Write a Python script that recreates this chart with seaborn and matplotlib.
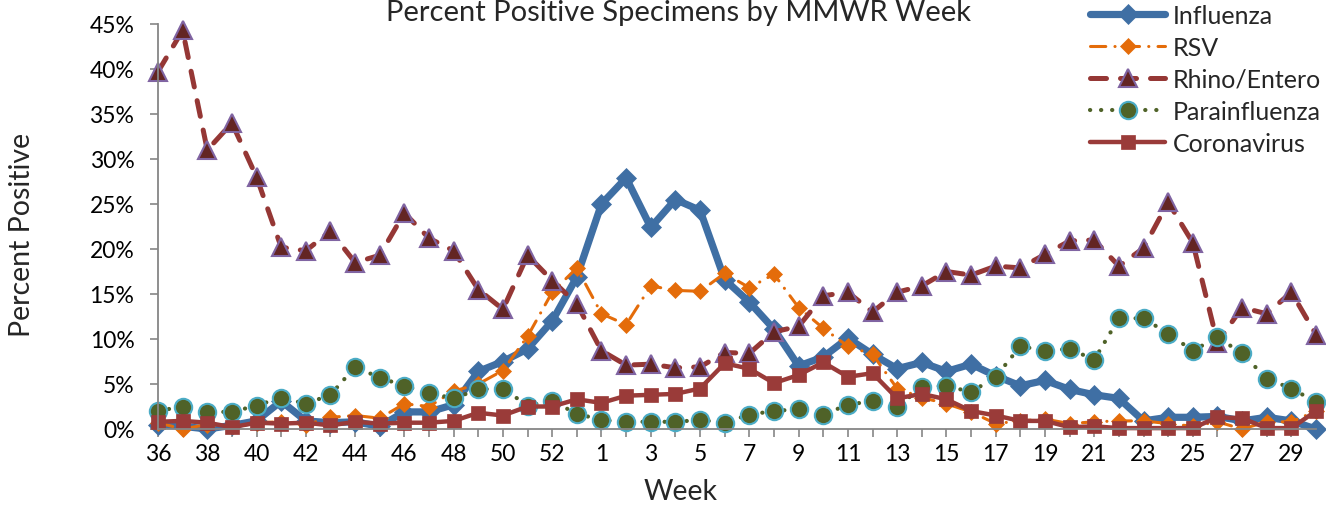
import matplotlib
matplotlib.use("Agg")
import matplotlib.pyplot as plt
import seaborn as sns
import numpy as np

# ---- data ----
weeks = list(range(36, 54)) + list(range(1, 31))
influenza = [0.5, 0.3, 0.0, 0.4, 0.9, 3.1, 0.9, 0.7, 0.8, 0.3, 1.9, 1.9, 2.7, 6.4, 7.5, 8.9, 12.0, 16.9,
             25.0, 27.9, 22.4, 25.5, 24.3, 16.6, 14.1, 11.1, 7.0, 8.0, 10.1, 8.3, 6.7, 7.4, 6.4, 7.2, 5.9,
             4.8, 5.4, 4.4, 3.8, 3.4, 0.9, 1.3, 1.3, 1.4, 0.9, 1.3, 0.9, 0.0]
rsv = [0.7, 0.0, 0.5, 0.3, 0.7, 0.8, 0.5, 1.3, 1.5, 1.2, 2.8, 2.5, 4.2, 5.0, 6.5, 10.3, 15.2, 17.9,
       12.8, 11.6, 15.9, 15.4, 15.3, 17.3, 15.7, 17.2, 13.5, 11.2, 9.2, 8.3, 4.5, 3.5, 2.8, 1.9, 0.6,
       0.9, 1.1, 0.6, 0.8, 0.9, 0.9, 0.6, 0.3, 0.8, 0.0, 0.8, 0.8, 2.0]
rhino = [39.7, 44.3, 31.0, 34.0, 28.0, 20.2, 19.8, 22.0, 18.5, 19.3, 24.0, 21.2, 19.8, 15.5, 13.3, 19.3,
         16.5, 13.9, 8.7, 7.1, 7.2, 6.8, 6.9, 8.5, 8.4, 10.8, 11.4, 14.8, 15.2, 13.0, 15.2, 15.9, 17.5,
         17.1, 18.1, 17.9, 19.4, 20.9, 21.0, 18.1, 20.1, 25.2, 20.7, 9.6, 13.5, 12.8, 15.2, 10.5]
para = [2.0, 2.5, 1.9, 1.9, 2.6, 3.5, 2.8, 3.8, 6.9, 5.7, 4.8, 4.0, 3.4, 4.4, 4.5, 2.6, 3.1, 1.7,
        1.0, 0.8, 0.8, 0.8, 1.0, 0.7, 1.6, 2.0, 2.2, 1.6, 2.7, 3.1, 2.4, 4.7, 4.8, 4.1, 5.8, 9.2,
        8.7, 8.9, 7.7, 12.3, 12.3, 10.6, 8.7, 10.2, 8.4, 5.6, 4.5, 3.0]
corona = [0.8, 0.9, 0.7, 0.2, 0.7, 0.6, 0.7, 0.4, 0.8, 0.6, 0.7, 0.7, 0.9, 1.8, 1.5, 2.5, 2.5, 3.3,
          2.9, 3.7, 3.8, 3.9, 4.5, 7.3, 6.7, 5.1, 6.0, 7.4, 5.8, 6.2, 3.4, 3.9, 3.3, 2.0, 1.5, 0.9,
          0.9, 0.2, 0.3, 0.1, 0.1, 0.1, 0.1, 1.3, 1.2, 0.1, 0.1, 2.0]
series_names = ["Influenza", "RSV", "Rhino/Entero", "Parainfluenza", "Coronavirus"]
y_ticks = [0, 5, 10, 15, 20, 25, 30, 35, 40, 45]

# ---- style ----
sns.set_theme(style="white")
plt.rcParams['font.family'] = ['Lato', 'DejaVu Sans']

W, H = 1326, 506
fig = plt.figure(figsize=(W / 100, H / 100), dpi=100)
ax = fig.add_axes([158 / W, 76 / H, (1316 - 158) / W, 405 / H])

pos = np.arange(len(weeks))
styles = [
    dict(color="#3F6FA4", linewidth=5.2, marker="D", markersize=10.5, markerfacecolor="#3F6FA4",
         markeredgecolor="#3F6FA4", markeredgewidth=0.5, dashes=None),
    dict(color="#E46C0A", linewidth=2.2, marker="D", markersize=8.5, markerfacecolor="#E46C0A",
         markeredgecolor="#E46C0A", markeredgewidth=0.5, dashes=(5, 3, 0.05, 3)),
    dict(color="#953735", linewidth=3.6, marker="^", markersize=13, markerfacecolor="#632523",
         markeredgecolor="#8064A2", markeredgewidth=1.5, dashes=(3.2, 2.8)),
    dict(color="#4F6228", linewidth=3.0, marker="o", markersize=12.5, markerfacecolor="#4F6228",
         markeredgecolor="#4BACC6", markeredgewidth=1.5, dashes=(0.05, 2.6)),
    dict(color="#9A3B39", linewidth=3.2, marker="s", markersize=10.5, markerfacecolor="#9A3B39",
         markeredgecolor="#9A3B39", markeredgewidth=0.5, dashes=None),
]
data = [influenza, rsv, rhino, para, corona]

for name, vals, st in zip(series_names, data, styles):
    st = dict(st)
    dashes = st.pop("dashes")
    sns.lineplot(x=pos, y=vals, ax=ax, label=name, errorbar=None, sort=False, **st)
    line = ax.lines[-1]
    line.set_clip_on(False)
    if dashes is not None:
        line.set_dashes(dashes)
        line.set_dash_capstyle("round")
    else:
        line.set_solid_capstyle("round")
    line.set_solid_joinstyle("round")

ax.set_xlim(0, len(weeks) - 1)
ax.set_ylim(0, 45)
ax.set_xticks(pos)
ax.set_xticklabels([str(w) if i % 2 == 0 else "" for i, w in enumerate(weeks)])
ax.set_yticks(y_ticks)
ax.set_yticklabels([f"{v}%" for v in y_ticks])

axis_col = "#868686"
for s in ["top", "right"]:
    ax.spines[s].set_visible(False)
for s in ["left", "bottom"]:
    ax.spines[s].set_color(axis_col)
    ax.spines[s].set_linewidth(1.3)
ax.tick_params(axis="x", direction="out", length=6, width=1.2, color=axis_col, labelsize=16.5,
               pad=4, labelcolor="black", bottom=True)
ax.tick_params(axis="y", direction="out", length=6, width=1.2, color=axis_col, labelsize=16.5,
               pad=11, labelcolor="black", left=True)
ax.set_xlabel("")
ax.set_ylabel("")
ax.grid(False)

fig.text(681 / W, 1 - 492 / H, "Week", ha="center", va="center", fontsize=20.5)
fig.text(22 / W, 1 - 235 / H, "Percent Positive", ha="center", va="center", rotation=90, fontsize=20.5)
fig.text(679 / W, 1 - 21 / H, "Percent Positive Specimens by MMWR Week", ha="center", va="baseline",
         fontsize=21)

handles, labels = ax.get_legend_handles_labels()
ax.get_legend().remove()
fig.legend(handles, labels, loc="upper left", bbox_to_anchor=(1090 / W, 1 - 5 / H), frameon=False,
           fontsize=18, handlelength=3.0, handletextpad=0.3, labelspacing=0.36, borderpad=0,
           borderaxespad=0, numpoints=1)

fig.savefig("out.png", dpi=100)
